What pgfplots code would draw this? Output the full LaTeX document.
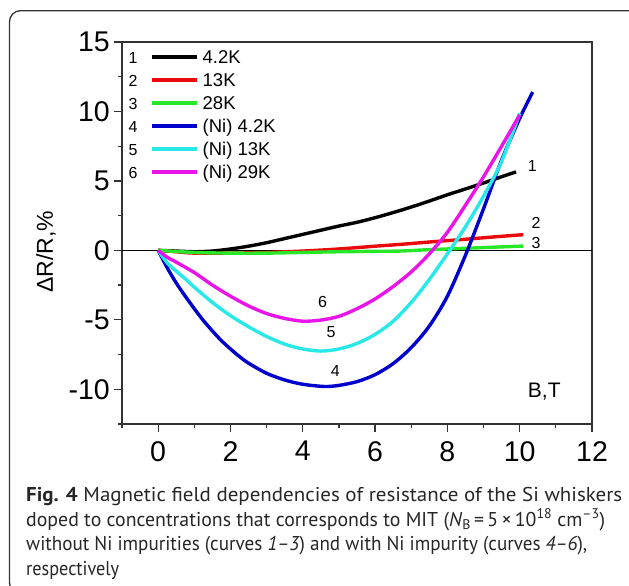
\documentclass[border=0pt]{standalone}
\usepackage{pgfplots}
\pgfplotsset{compat=1.18}
\usepackage{graphicx}
\usepackage{fontspec}
\setmainfont{Liberation Sans}
\newfontfamily\capfont{PT Sans}
\definecolor{cRed}{RGB}{235,10,10}
\definecolor{cGreen}{RGB}{40,230,40}
\definecolor{cBlue}{RGB}{0,0,205}
\definecolor{cCyan}{RGB}{40,232,232}
\definecolor{cMag}{RGB}{232,20,232}
\begin{document}
\begin{tikzpicture}[x=1pt,y=1pt]
\useasboundingbox (0,0) rectangle (629,586);
\clip (0,0) rectangle (629,586);
\draw[line width=1.3pt, black!80, rounded corners=11pt] (660,-8) -- (9.5,-8) -- (9.5,575.3) -- (660,575.3);
\begin{axis}[
  at={(122pt,162pt)}, anchor=south west,
  width=470pt, height=382pt, scale only axis,
  xmin=-1, xmax=12, ymin=-12.5, ymax=15,
  xtick={0,2,4,6,8,10,12}, ytick={-10,-5,0,5,10,15},
  xticklabels={0,2,4,6,8,10,12}, yticklabels={-10,-5,0,5,10,15},
  minor xtick={-1,1,3,5,7,9,11}, minor ytick={-12.5,-7.5,-2.5,2.5,7.5,12.5},
  xtick pos=left, ytick pos=left,
  tick align=outside,
  major tick length=8pt, minor tick length=4.5pt,
  every tick/.style={black!80, line width=1.2pt},
  axis line style={black!80, line width=1.2pt},
  tick label style={font=\fontsize{28.5}{28.5}\selectfont, inner sep=0pt},
  xticklabel style={anchor=north, yshift=-9pt},
  yticklabel style={anchor=east, xshift=-4pt},
  legend style={draw=none, fill=none, inner sep=0pt, outer sep=0pt,
    at={(0.01394,0.9777)}, anchor=north west, row sep=10pt,
    font=\fontsize{18.5}{18.5}\selectfont,
    nodes={inner sep=0pt, text height=13pt, text depth=0pt},
    cells={anchor=west},
    /tikz/every odd column/.append style={column sep=4pt}},
  clip=false,
]
\addplot[black, line width=0.8pt, forget plot] coordinates {(-1,0) (12,0)};

\addplot[black, line width=3.4pt, smooth,
  legend image code/.code={\draw (0pt,0pt) -- (45pt,0pt); \node[text=black, inner sep=0pt, anchor=center, font=\fontsize{16}{16}\selectfont] at (-19pt,0pt) {1};}]
coordinates {(0,0) (0.5,-0.05) (1.0,-0.1) (1.5,-0.05) (2.0,0.1) (2.5,0.3) (3.0,0.55) (3.5,0.85) (4.0,1.15) (4.5,1.45) (5.0,1.75) (5.5,2.02) (6.0,2.35) (6.5,2.72) (7.0,3.12) (7.5,3.55) (8.0,4.0) (8.5,4.42) (9.0,4.85) (9.5,5.3) (9.9,5.65)};
\addlegendentry{4.2K}

\addplot[cRed, line width=3.4pt, smooth,
  legend image code/.code={\draw (0pt,0pt) -- (45pt,0pt); \node[text=black, inner sep=0pt, anchor=center, font=\fontsize{16}{16}\selectfont] at (-19pt,0pt) {2};}]
coordinates {(0,0) (0.5,-0.1) (1.0,-0.2) (2.0,-0.2) (3.0,-0.15) (4.0,-0.05) (5.0,0.1) (6.0,0.3) (6.7,0.43) (7.5,0.6) (8.5,0.8) (9.3,0.97) (10.1,1.13)};
\addlegendentry{13K}

\addplot[cGreen, line width=3.4pt, smooth,
  legend image code/.code={\draw (0pt,0pt) -- (45pt,0pt); \node[text=black, inner sep=0pt, anchor=center, font=\fontsize{16}{16}\selectfont] at (-19pt,0pt) {3};}]
coordinates {(0,0) (1,-0.15) (2,-0.2) (3,-0.2) (4,-0.15) (5,-0.1) (6,-0.07) (6.7,-0.05) (7.5,0.05) (8.5,0.15) (9.3,0.23) (10.1,0.31)};
\addlegendentry{28K}

\addplot[cBlue, line width=3.4pt, smooth,
  legend image code/.code={\draw (0pt,0pt) -- (45pt,0pt); \node[text=black, inner sep=0pt, anchor=center, font=\fontsize{16}{16}\selectfont] at (-19pt,0pt) {4};}]
coordinates {(0,0) (0.25,-1.25) (0.5,-2.35) (0.75,-3.3) (1.0,-4.2) (1.25,-5.05) (1.5,-5.8) (1.75,-6.5) (2.0,-7.1) (2.25,-7.65) (2.5,-8.12) (3.0,-8.85) (3.5,-9.33) (4.0,-9.64) (4.6,-9.8) (5.0,-9.72) (5.5,-9.45) (6.0,-8.95) (6.5,-8.15) (7.0,-7.0) (7.5,-5.45) (8.0,-3.3) (8.5,-0.35) (9.0,3.0) (9.5,6.5) (10.0,9.5) (10.36,11.4)};
\addlegendentry{(Ni) 4.2K}

\addplot[cCyan, line width=3.4pt, smooth,
  legend image code/.code={\draw (0pt,0pt) -- (45pt,0pt); \node[text=black, inner sep=0pt, anchor=center, font=\fontsize{16}{16}\selectfont] at (-19pt,0pt) {5};}]
coordinates {(0,0) (0.25,-0.9) (0.5,-1.5) (0.75,-2.05) (1.0,-2.65) (1.5,-3.75) (2.0,-4.7) (2.5,-5.5) (3.0,-6.2) (3.5,-6.75) (4.0,-7.1) (4.5,-7.25) (5.0,-7.1) (5.5,-6.7) (6.0,-6.05) (6.5,-5.1) (7.0,-3.75) (7.5,-2.1) (8.0,-0.25) (8.5,1.7) (9.0,3.9) (9.5,6.4) (10.0,9.87)};
\addlegendentry{(Ni) 13K}

\addplot[cMag, line width=3.4pt, smooth,
  legend image code/.code={\draw (0pt,0pt) -- (45pt,0pt); \node[text=black, inner sep=0pt, anchor=center, font=\fontsize{16}{16}\selectfont] at (-19pt,0pt) {6};}]
coordinates {(0,0) (0.25,-0.5) (0.5,-0.85) (1.0,-1.6) (1.5,-2.5) (2.0,-3.3) (2.5,-4.0) (3.0,-4.55) (3.5,-4.9) (4.0,-5.1) (4.5,-5.02) (5.0,-4.75) (5.5,-4.2) (6.0,-3.5) (6.5,-2.6) (7.0,-1.55) (7.5,-0.25) (8.0,1.3) (8.5,3.25) (9.0,5.3) (9.5,7.5) (10.0,9.75)};
\addlegendentry{(Ni) 29K}

\node[font=\fontsize{16}{16}\selectfont] at (axis cs:10.35,6.1) {1};
\node[font=\fontsize{16}{16}\selectfont] at (axis cs:10.45,2.0) {2};
\node[font=\fontsize{16}{16}\selectfont] at (axis cs:10.45,0.5) {3};
\node[font=\fontsize{16}{16}\selectfont] at (axis cs:4.55,-3.7) {6};
\node[font=\fontsize{16}{16}\selectfont] at (axis cs:4.78,-5.85) {5};
\node[font=\fontsize{16}{16}\selectfont] at (axis cs:4.9,-8.65) {4};
\node[font=\fontsize{21}{21}\selectfont] at (axis cs:10.68,-10.18) {B,T};
\end{axis}
\node[rotate=90, inner sep=0pt, font=\fontsize{23}{23}\selectfont] at (46,334) {ΔR/R,\%};
\begin{scope}[every node/.style={anchor=base west, inner sep=0pt, text=black!85}]
\node at (26,84) {\resizebox{596pt}{\height}{\capfont\fontsize{20}{20}\selectfont \textbf{Fig. 4} Magnetic field dependencies of resistance of the Si whiskers}};
\node at (26,59.5) {\resizebox{579pt}{\height}{\capfont\fontsize{20}{20}\selectfont doped to concentrations that corresponds to MIT (\textit{N}\textsubscript{B}\,=\,5\,×\,10\textsuperscript{18} cm\textsuperscript{–3})}};
\node at (26,35) {\resizebox{561pt}{\height}{\capfont\fontsize{20}{20}\selectfont without Ni impurities (curves \textit{1–3}) and with Ni impurity (curves \textit{4–6}),}};
\node at (26,10.5) {\resizebox{93pt}{\height}{\capfont\fontsize{20}{20}\selectfont respectively}};
\end{scope}
\end{tikzpicture}
\end{document}
